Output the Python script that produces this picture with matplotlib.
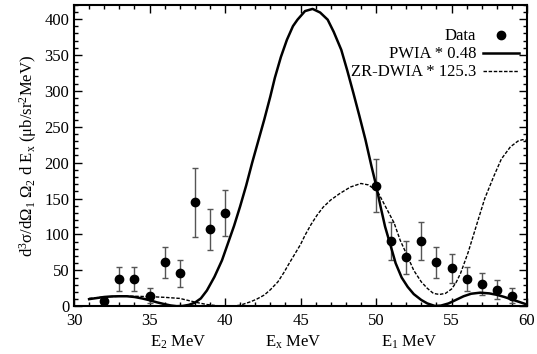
import numpy as np
import matplotlib
matplotlib.use('Agg')
import matplotlib.pyplot as plt
from matplotlib.ticker import MultipleLocator

plt.rcParams['font.family'] = ['Liberation Serif', 'DejaVu Serif']
plt.rcParams['mathtext.fontset'] = 'custom'
plt.rcParams['mathtext.rm'] = 'Liberation Serif'
plt.rcParams['mathtext.it'] = 'Liberation Serif:italic'
plt.rcParams['font.size'] = 11

# measured data
data_x = [32, 33, 34, 35, 36, 37, 38, 39, 40,
          50, 51, 52, 53, 54, 55, 56, 57, 58, 59]
data_y = [8, 38, 38, 15, 61, 46, 145, 107, 130,
          168, 91, 68, 91, 61, 53, 38, 31, 23, 15]
data_err = [0, 17, 17, 11, 21, 19, 48, 29, 32,
            37, 27, 23, 27, 21, 20, 17, 15, 13, 11]

# PWIA * 0.48 curve
pwia_x = [31.0, 31.5, 32.0, 32.5, 33.0, 33.5, 34.0, 34.5, 35.0, 35.5,
          36.0, 36.4, 36.8, 37.2, 37.6, 38.0, 38.4, 38.8, 39.3, 39.8,
          40.2, 40.6, 41.0, 41.4, 41.8, 42.2, 42.6, 43.0, 43.3, 43.7,
          44.1, 44.5, 44.8, 45.3, 45.8, 46.3, 46.8, 47.2, 47.7, 48.1,
          48.5, 48.9, 49.3, 49.7, 50.0, 50.3, 50.6, 51.0, 51.3, 51.7,
          52.1, 52.5, 53.0, 53.4, 53.9, 54.3, 54.8, 55.3, 55.8, 56.3,
          56.9, 57.5, 58.0, 58.5, 59.0, 59.5, 60.0]
pwia_y = [10, 11.5, 13, 13.8, 14, 14, 13, 11, 8.5, 5.5,
          3, 1.2, 0.2, 0.5, 2, 5, 11, 22, 41, 64,
          88, 112, 139, 168, 200, 230, 260, 292, 318, 347,
          371, 390, 399, 411, 414, 409, 399, 382, 357, 328,
          297, 265, 232, 195, 169, 139, 111, 82, 60, 40,
          27, 17, 8.8, 4, 0.5, 1, 4, 9, 14, 17.5,
          19, 18, 16, 13, 9.5, 6, 2.5]

# ZR-DWIA * 125.3 curve
dwia_x = [31.0, 32.0, 33.0, 34.0, 35.0, 36.0, 37.0, 37.6, 38.2, 38.8,
          39.4, 40.0, 40.5, 41.0, 41.7, 42.1, 42.6, 43.0, 43.5, 43.9,
          44.2, 44.6, 45.0, 45.3, 45.7, 46.1, 46.5, 47.0, 47.6, 48.3,
          49.0, 49.5, 50.1, 50.6, 51.2, 51.6, 52.1, 52.5, 53.0, 53.4,
          53.8, 54.2, 54.6, 55.0, 55.3, 55.6, 56.1, 56.7, 57.2, 57.8,
          58.3, 58.9, 59.4, 59.7, 60.0]
dwia_y = [11, 13, 14, 14, 13.5, 12.5, 11, 8, 5, 2.5,
          1, 0.3, 0.4, 1.5, 6.4, 10, 15.7, 23, 34, 47,
          58, 72, 86, 99, 114, 127, 138, 148, 157, 166,
          171, 169, 160, 140, 116, 92, 69, 50, 34, 25,
          18, 16.5, 18, 24, 33, 46, 75, 116, 150, 181,
          205, 222, 230, 232, 231]

fig = plt.figure(figsize=(5.37, 3.54), dpi=100)
ax = fig.add_axes([0.1378, 0.1347, 0.8436, 0.8523])

ax.errorbar(data_x, data_y, yerr=data_err, fmt='none', ecolor='#555555',
            elinewidth=1.0, capsize=2.5, capthick=1.0, zorder=2)
ax.plot(data_x, data_y, 'o', color='black', markersize=6, label='Data', zorder=3)
ax.plot(pwia_x, pwia_y, '-', color='black', linewidth=1.8, label='PWIA * 0.48')
ax.plot(dwia_x, dwia_y, '--', color='black', linewidth=1.0, dashes=(2.5, 1.2),
        label='ZR-DWIA * 125.3')

ax.set_xlim(30, 60)
ax.set_ylim(0, 420)
ax.xaxis.set_major_locator(MultipleLocator(5))
ax.xaxis.set_minor_locator(MultipleLocator(1))
ax.yaxis.set_major_locator(MultipleLocator(50))
ax.yaxis.set_minor_locator(MultipleLocator(10))
ax.tick_params(which='both', direction='in', top=True, right=True, labelsize=12)
ax.tick_params(axis='x', pad=5)
ax.tick_params(which='major', length=6, width=1)
ax.tick_params(which='minor', length=3, width=1)
for s in ax.spines.values():
    s.set_linewidth(1.5)

ax.set_ylabel(r'd$^3$σ/dΩ$_1$ Ω$_2$ d E$_\mathrm{x}$ (μb/sr$^2$MeV)', fontsize=12)

for xv, lab in [(36.9, r'E$_2$ MeV'), (44.5, r'E$_\mathrm{x}$ MeV'), (52.2, r'E$_1$ MeV')]:
    ax.text(xv, -0.09, lab, transform=ax.get_xaxis_transform(),
            ha='center', va='top', fontsize=12)

ax.legend(loc='upper right', bbox_to_anchor=(1.009, 0.96), frameon=False,
          markerfirst=False, fontsize=12, handlelength=2.2, handletextpad=0.4,
          labelspacing=0.12, borderaxespad=0.3)

fig.savefig('out.png', dpi=100)
